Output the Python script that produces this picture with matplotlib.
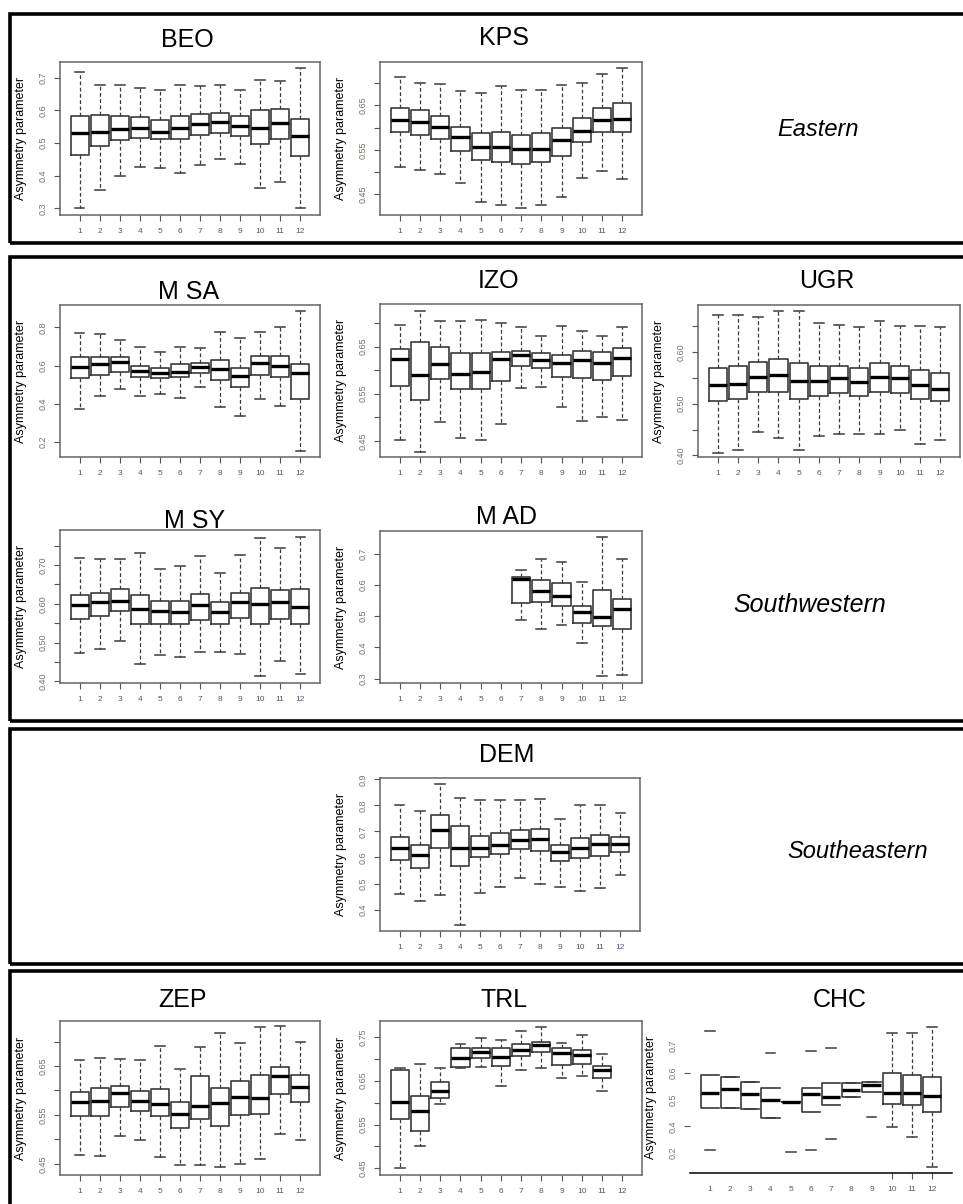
import numpy as np
import matplotlib.pyplot as plt
from matplotlib.patches import Rectangle

plt.rcParams['font.family'] = ['Liberation Sans', 'DejaVu Sans']

W, H = 963, 1204

MONTHS = list(range(1, 13))

# rows = months, columns = lower whisker, q1, median, q3, upper whisker
BEO = np.array([
    [0.302, 0.463, 0.532, 0.582, 0.717],
    [0.356, 0.490, 0.534, 0.587, 0.679],
    [0.400, 0.509, 0.542, 0.582, 0.679],
    [0.427, 0.517, 0.547, 0.580, 0.669],
    [0.425, 0.512, 0.534, 0.572, 0.661],
    [0.409, 0.512, 0.547, 0.582, 0.679],
    [0.432, 0.524, 0.558, 0.588, 0.674],
    [0.451, 0.532, 0.566, 0.592, 0.679],
    [0.435, 0.521, 0.552, 0.582, 0.661],
    [0.364, 0.498, 0.547, 0.602, 0.692],
    [0.381, 0.511, 0.560, 0.605, 0.689],
    [0.302, 0.461, 0.522, 0.575, 0.731]])

KPS = np.array([
    [0.512, 0.589, 0.616, 0.644, 0.713],
    [0.506, 0.583, 0.613, 0.640, 0.699],
    [0.496, 0.574, 0.601, 0.627, 0.697],
    [0.476, 0.548, 0.578, 0.601, 0.682],
    [0.434, 0.527, 0.557, 0.587, 0.678],
    [0.426, 0.523, 0.557, 0.589, 0.693],
    [0.420, 0.518, 0.553, 0.583, 0.684],
    [0.426, 0.523, 0.551, 0.587, 0.684],
    [0.445, 0.537, 0.573, 0.599, 0.695],
    [0.486, 0.568, 0.593, 0.622, 0.700],
    [0.502, 0.589, 0.618, 0.644, 0.719],
    [0.484, 0.589, 0.620, 0.654, 0.734]])

MSA = np.array([
    [0.374, 0.534, 0.591, 0.643, 0.769],
    [0.442, 0.551, 0.607, 0.643, 0.763],
    [0.478, 0.569, 0.621, 0.647, 0.734],
    [0.443, 0.543, 0.574, 0.600, 0.699],
    [0.450, 0.534, 0.560, 0.586, 0.673],
    [0.433, 0.543, 0.569, 0.607, 0.699],
    [0.487, 0.560, 0.595, 0.612, 0.690],
    [0.381, 0.525, 0.581, 0.630, 0.777],
    [0.339, 0.487, 0.546, 0.586, 0.743],
    [0.426, 0.551, 0.612, 0.652, 0.777],
    [0.390, 0.543, 0.598, 0.652, 0.803],
    [0.151, 0.424, 0.563, 0.607, 0.885]])

IZO = np.array([
    [0.451, 0.566, 0.624, 0.645, 0.695],
    [0.427, 0.537, 0.590, 0.659, 0.726],
    [0.490, 0.581, 0.613, 0.650, 0.705],
    [0.457, 0.560, 0.592, 0.636, 0.705],
    [0.451, 0.559, 0.597, 0.636, 0.707],
    [0.485, 0.576, 0.623, 0.639, 0.700],
    [0.563, 0.609, 0.631, 0.641, 0.691],
    [0.565, 0.605, 0.622, 0.636, 0.673],
    [0.521, 0.586, 0.615, 0.631, 0.693],
    [0.492, 0.584, 0.622, 0.641, 0.682],
    [0.500, 0.580, 0.615, 0.639, 0.673],
    [0.494, 0.588, 0.625, 0.646, 0.691]])

UGR = np.array([
    [0.405, 0.505, 0.535, 0.569, 0.671],
    [0.411, 0.508, 0.537, 0.573, 0.671],
    [0.445, 0.523, 0.552, 0.581, 0.666],
    [0.434, 0.523, 0.555, 0.586, 0.679],
    [0.411, 0.508, 0.543, 0.579, 0.679],
    [0.437, 0.514, 0.543, 0.573, 0.655],
    [0.442, 0.521, 0.550, 0.573, 0.652],
    [0.442, 0.514, 0.541, 0.568, 0.648],
    [0.442, 0.523, 0.552, 0.579, 0.660],
    [0.450, 0.521, 0.550, 0.573, 0.650],
    [0.423, 0.508, 0.535, 0.565, 0.650],
    [0.429, 0.505, 0.529, 0.559, 0.647]])

MSY = np.array([
    [0.474, 0.561, 0.596, 0.622, 0.719],
    [0.484, 0.568, 0.604, 0.628, 0.715],
    [0.504, 0.582, 0.608, 0.638, 0.715],
    [0.444, 0.549, 0.587, 0.622, 0.730],
    [0.467, 0.547, 0.582, 0.606, 0.690],
    [0.463, 0.547, 0.579, 0.606, 0.697],
    [0.477, 0.558, 0.596, 0.625, 0.723],
    [0.477, 0.548, 0.579, 0.604, 0.680],
    [0.470, 0.564, 0.604, 0.628, 0.726],
    [0.414, 0.547, 0.600, 0.640, 0.770],
    [0.453, 0.561, 0.605, 0.636, 0.744],
    [0.419, 0.547, 0.593, 0.639, 0.772]])

MAD_MONTHS = [7, 8, 9, 10, 11, 12]
MAD = np.array([
    [0.486, 0.541, 0.617, 0.626, 0.647],
    [0.458, 0.546, 0.581, 0.615, 0.681],
    [0.470, 0.533, 0.564, 0.607, 0.673],
    [0.414, 0.477, 0.512, 0.533, 0.608],
    [0.307, 0.467, 0.496, 0.583, 0.753],
    [0.310, 0.458, 0.523, 0.555, 0.681]])

DEM = np.array([
    [0.461, 0.592, 0.637, 0.679, 0.800],
    [0.432, 0.560, 0.611, 0.649, 0.779],
    [0.455, 0.637, 0.704, 0.762, 0.883],
    [0.342, 0.566, 0.637, 0.721, 0.830],
    [0.465, 0.602, 0.637, 0.683, 0.819],
    [0.487, 0.612, 0.647, 0.694, 0.819],
    [0.521, 0.631, 0.669, 0.707, 0.819],
    [0.500, 0.625, 0.672, 0.711, 0.823],
    [0.487, 0.587, 0.621, 0.649, 0.747],
    [0.472, 0.598, 0.638, 0.675, 0.800],
    [0.483, 0.606, 0.651, 0.685, 0.800],
    [0.532, 0.621, 0.651, 0.679, 0.772]])

ZEP = np.array([
    [0.467, 0.547, 0.576, 0.597, 0.662],
    [0.465, 0.547, 0.578, 0.605, 0.667],
    [0.506, 0.566, 0.595, 0.609, 0.664],
    [0.499, 0.558, 0.579, 0.599, 0.662],
    [0.464, 0.547, 0.573, 0.602, 0.690],
    [0.448, 0.523, 0.551, 0.577, 0.643],
    [0.448, 0.542, 0.569, 0.629, 0.688],
    [0.443, 0.528, 0.575, 0.604, 0.718],
    [0.450, 0.549, 0.586, 0.619, 0.696],
    [0.460, 0.552, 0.585, 0.631, 0.729],
    [0.511, 0.593, 0.629, 0.647, 0.731],
    [0.499, 0.577, 0.607, 0.632, 0.699]])

TRL_MONTHS = list(range(1, 12))
TRL = np.array([
    [0.452, 0.563, 0.601, 0.675, 0.679],
    [0.502, 0.535, 0.580, 0.616, 0.689],
    [0.597, 0.610, 0.627, 0.646, 0.679],
    [0.679, 0.681, 0.702, 0.725, 0.734],
    [0.681, 0.702, 0.716, 0.725, 0.748],
    [0.637, 0.683, 0.704, 0.725, 0.742],
    [0.675, 0.706, 0.721, 0.734, 0.763],
    [0.679, 0.715, 0.731, 0.738, 0.772],
    [0.655, 0.685, 0.713, 0.725, 0.735],
    [0.661, 0.689, 0.708, 0.719, 0.754],
    [0.626, 0.655, 0.675, 0.684, 0.711]])

CHC = np.array([
    [0.310, 0.469, 0.523, 0.590, 0.756],
    [0.469, 0.469, 0.541, 0.585, 0.585],
    [0.465, 0.465, 0.519, 0.565, 0.565],
    [0.431, 0.431, 0.498, 0.544, 0.673],
    [0.303, 0.490, 0.490, 0.490, 0.490],
    [0.310, 0.453, 0.519, 0.544, 0.681],
    [0.352, 0.479, 0.510, 0.563, 0.694],
    [0.509, 0.509, 0.534, 0.563, 0.563],
    [0.435, 0.528, 0.556, 0.565, 0.565],
    [0.396, 0.485, 0.525, 0.600, 0.750],
    [0.360, 0.481, 0.525, 0.591, 0.750],
    [0.2475, 0.4525, 0.515, 0.585, 0.7725]])
CHC_FULL = [10, 11, 12]

YLABEL = 'Asymmetry parameter'

BOX = '#3a3a3a'
FRAME = '#666666'
BOX_W = 0.9

fig = plt.figure(figsize=(W / 100, H / 100), dpi=100)


def px_axes(x0, y0, x1, y1):
    return fig.add_axes([x0 / W, 1 - y1 / H, (x1 - x0) / W, (y1 - y0) / H])


def station(rect, name, title_xy, stats, months, ticks, labels, ylim):
    ax = px_axes(*rect)
    rows = [dict(whislo=s[0], q1=s[1], med=s[2], q3=s[3], whishi=s[4], fliers=[])
            for s in stats]
    parts = ax.bxp(rows, positions=months, widths=BOX_W, capwidths=0.48, showfliers=False,
                   boxprops=dict(color=BOX, lw=1.2),
                   medianprops=dict(color='black', lw=2.4, solid_capstyle='butt'),
                   whiskerprops=dict(color=BOX, lw=0.9, ls=(0, (3, 2))),
                   capprops=dict(color=BOX, lw=1.1))
    ax.set_xlim(0.02, 12.98)
    ax.set_ylim(*ylim)
    ax.set_xticks(MONTHS, labels=[str(m) for m in MONTHS])
    ax.set_yticks(ticks, labels=labels)
    ax.tick_params(axis='x', length=4.5, width=0.8, pad=5, labelsize=6,
                   color='#555555', labelcolor='#4e5870')
    ax.tick_params(axis='y', length=4, width=0.8, pad=5, labelsize=6.5,
                   color='#555555', labelcolor='#7a7068', labelrotation=90)
    for t in ax.get_yticklabels():
        t.set_va('center')
    for sp in ax.spines.values():
        sp.set_color(FRAME)
        sp.set_linewidth(1.1)
    axw = rect[2] - rect[0]
    ax.set_ylabel(YLABEL, fontsize=9)
    ax.yaxis.set_label_coords(-33 / axw, 0.5)
    fig.text(title_xy[0] / W, 1 - title_xy[1] / H, name, ha='center', va='baseline',
             fontsize=18)
    return ax, parts


def tick_labels(ticks, shown):
    return [f'{t:.2f}' if round(t, 2) in shown else '' for t in ticks]


t05 = [0.45, 0.50, 0.55, 0.60, 0.65, 0.70]

station((60, 62, 320, 215), 'BEO', (187, 47), BEO, MONTHS,
        [0.3, 0.4, 0.5, 0.6, 0.7], ['0.3', '0.4', '0.5', '0.6', '0.7'], (0.28, 0.748))
station((380, 62, 642, 215), 'KPS', (504, 45), KPS, MONTHS,
        t05, tick_labels(t05, [0.45, 0.55, 0.65]), (0.404, 0.747))
station((60, 305, 320, 457), 'M SA', (189, 299), MSA, MONTHS,
        [0.2, 0.4, 0.6, 0.8], ['0.2', '0.4', '0.6', '0.8'], (0.122, 0.917))
station((380, 304, 642, 457), 'IZO', (499, 288), IZO, MONTHS,
        t05, tick_labels(t05, [0.45, 0.55, 0.65]), (0.416, 0.740))
ugr_t = [0.40, 0.45, 0.50, 0.55, 0.60, 0.65]
station((698, 305, 960, 457), 'UGR', (827, 288), UGR, MONTHS,
        ugr_t, tick_labels(ugr_t, [0.40, 0.50, 0.60]), (0.397, 0.690))
msy_t = [0.40, 0.45, 0.50, 0.55, 0.60, 0.65, 0.70, 0.75]
station((60, 530, 320, 683), 'M SY', (195, 528), MSY, MONTHS,
        msy_t, tick_labels(msy_t, [0.40, 0.50, 0.60, 0.70]), (0.396, 0.790))
station((380, 531, 642, 683), 'M AD', (506, 524), MAD, MAD_MONTHS,
        [0.3, 0.4, 0.5, 0.6, 0.7], ['0.3', '0.4', '0.5', '0.6', '0.7'], (0.286, 0.772))
station((380, 778, 640, 931), 'DEM', (507, 762), DEM, MONTHS,
        [0.4, 0.5, 0.6, 0.7, 0.8, 0.9], ['0.4', '0.5', '0.6', '0.7', '0.8', '0.9'],
        (0.318, 0.905))
station((60, 1021, 320, 1175), 'ZEP', (182, 1007), ZEP, MONTHS,
        t05, tick_labels(t05, [0.45, 0.55, 0.65]), (0.427, 0.742))
trl_t = [0.45, 0.50, 0.55, 0.60, 0.65, 0.70, 0.75]
station((380, 1021, 642, 1175), 'TRL', (504, 1007), TRL, TRL_MONTHS,
        trl_t, tick_labels(trl_t, [0.45, 0.55, 0.65, 0.75]), (0.435, 0.786))

# CHC: broken boxes (open on the right), only the bottom axis line
ax, parts = station((690, 1021, 952, 1173), 'CHC', (840, 1007), CHC, MONTHS,
                    [0.3, 0.4, 0.5, 0.6, 0.7], ['0.2', '0.4', '0.5', '0.6', '0.7'],
                    (0.225, 0.794))
for name in ['top', 'right', 'left']:
    ax.spines[name].set_visible(False)
ax.spines['bottom'].set_color('black')
for i, m in enumerate(MONTHS):
    if m not in CHC_FULL:
        ax.xaxis.get_major_ticks()[i].tick1line.set_visible(False)
        parts['whiskers'][2 * i].set_visible(False)
        parts['whiskers'][2 * i + 1].set_visible(False)
        left, right = m - BOX_W / 2, m + BOX_W / 2
        q1, q3 = CHC[i, 1], CHC[i, 3]
        parts['boxes'][i].set_data([right, left, left, right], [q1, q1, q3, q3])
for i, t in enumerate(ax.yaxis.get_major_ticks()):
    if i not in (1, 3):
        t.tick1line.set_visible(False)

# region frames
for y0, y1 in [(14, 243), (257, 721), (729, 964), (971, 1240)]:
    fig.add_artist(Rectangle((10 / W, 1 - y1 / H), 1000 / W, (y1 - y0) / H,
                             transform=fig.transFigure, fill=False, lw=2.6,
                             ec='black', clip_on=False))

fig.text(818 / W, 1 - 130 / H, 'Eastern', ha='center', va='center',
         fontsize=17, style='italic')
fig.text(810 / W, 1 - 605 / H, 'Southwestern', ha='center', va='center',
         fontsize=18, style='italic')
fig.text(858 / W, 1 - 852 / H, 'Southeastern', ha='center', va='center',
         fontsize=17, style='italic')

fig.savefig('out.png', dpi=100)
